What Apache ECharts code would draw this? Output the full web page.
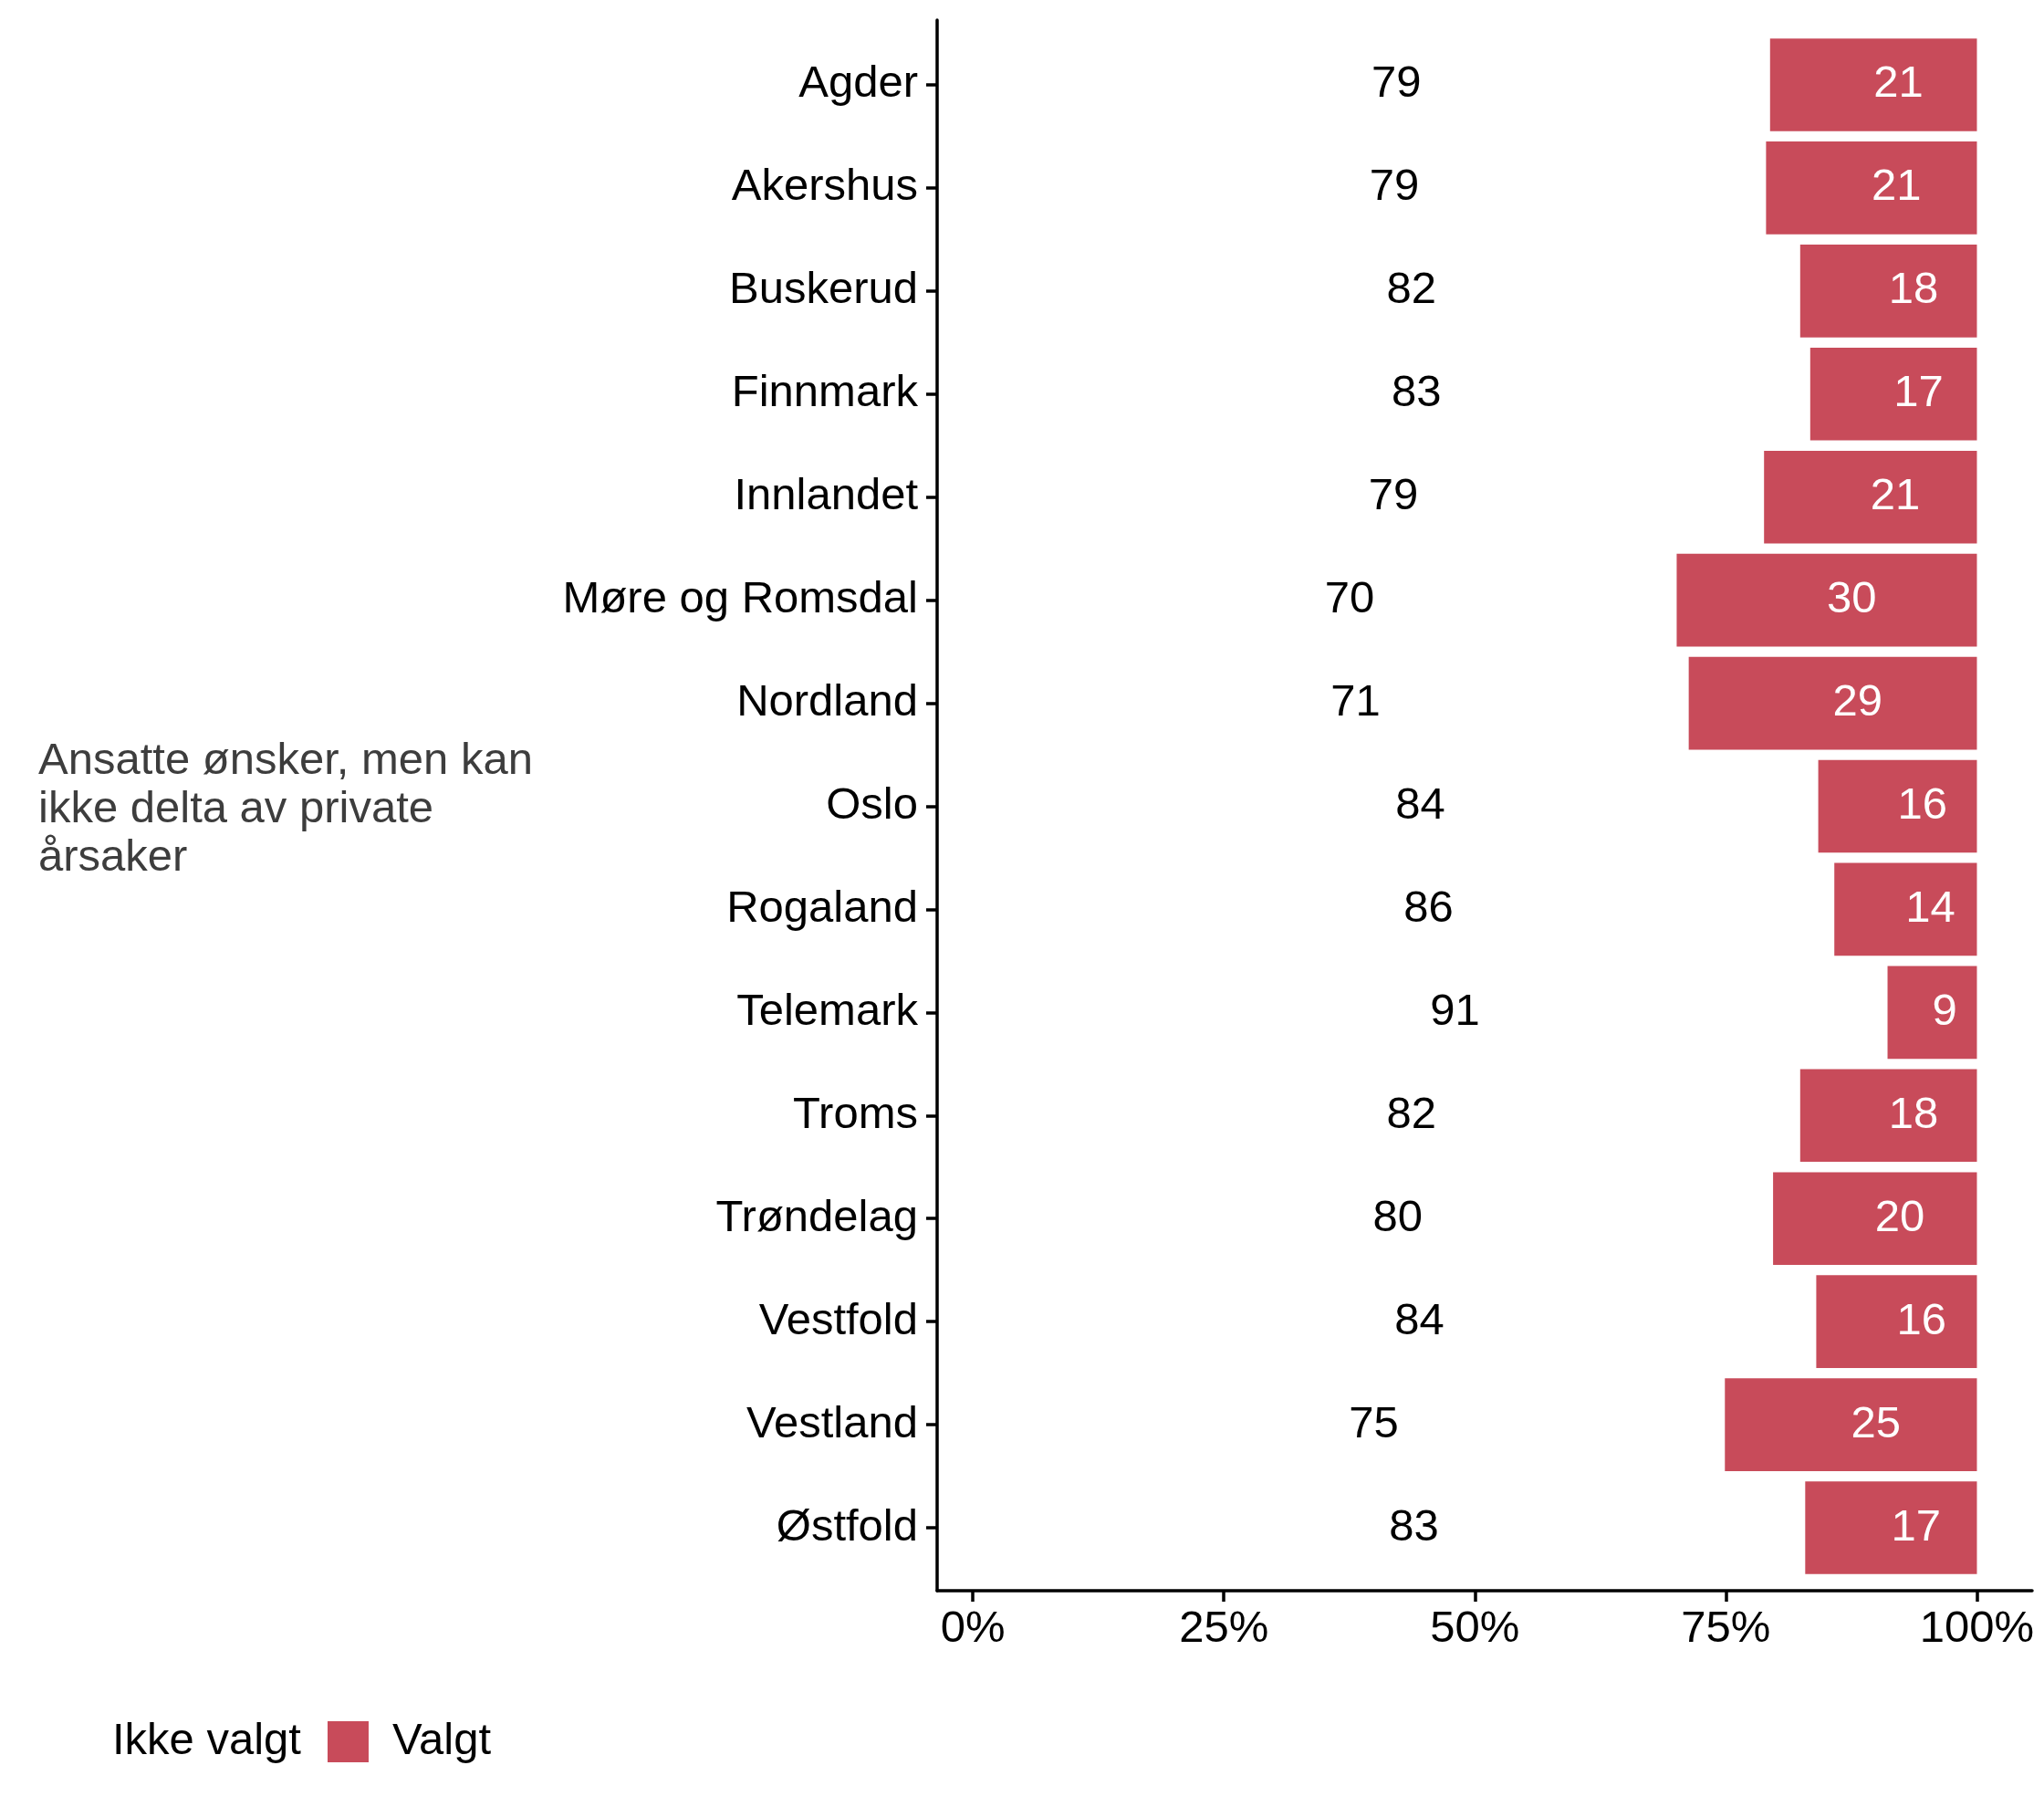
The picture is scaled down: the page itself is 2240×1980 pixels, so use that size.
<!DOCTYPE html>
<html>
<head>
<meta charset="utf-8">
<script src="https://cdn.jsdelivr.net/npm/echarts@6/dist/echarts.min.js"></script>
<style>html,body{margin:0;padding:0;background:#fff}#c{width:2240px;height:1980px}</style>
</head>
<body>
<div id="c"></div>
<script>
const categories = ['Agder','Akershus','Buskerud','Finnmark','Innlandet','Møre og Romsdal','Nordland','Oslo','Rogaland','Telemark','Troms','Trøndelag','Vestfold','Vestland','Østfold'];
const ikkeValgt = [79.4, 79.0, 82.4, 83.4, 78.8, 70.1, 71.3, 84.2, 85.8, 91.1, 82.4, 79.7, 84.0, 74.9, 82.9];
const valgt     = [20.6, 21.0, 17.6, 16.6, 21.2, 29.9, 28.7, 15.8, 14.2,  8.9, 17.6, 20.3, 16.0, 25.1, 17.1];
const xTicks = [0, 25, 50, 75, 100];
const axisTitle = 'Ansatte ønsker, men kan\nikke delta av private\nårsaker';
const seriesNames = ['Ikke valgt', 'Valgt'];

const FONT = "'Liberation Sans', Arial, sans-serif";
const RED = '#c84b5a';
const FS = 49;
const XMIN = -3.55, XMAX = 105.5;

const chart = echarts.init(document.getElementById('c'), null, {renderer: 'canvas'});
chart.setOption({
  animation: false,
  backgroundColor: '#fff',
  textStyle: {fontFamily: FONT},
  title: {
    text: axisTitle,
    left: 37, top: 803,
    textStyle: {fontFamily: FONT, fontSize: FS, fontWeight: 'normal', color: '#3d3d3d', lineHeight: 53}
  },
  legend: {
    left: 47, top: 1879,
    itemWidth: 45, itemHeight: 45, itemGap: 29,
    icon: 'rect',
    data: seriesNames,
    textStyle: {fontFamily: FONT, fontSize: FS, color: '#000', padding: [0, 0, 0, 21]}
  },
  grid: [
    {left: 1027, right: 13, top: 36.5, bottom: 249.5, containLabel: false},
    {left: 1027, right: 13, top: 22, bottom: 237, containLabel: false}
  ],
  xAxis: [
    {
      type: 'value', gridIndex: 0, min: XMIN, max: XMAX, show: false
    },
    {
      type: 'value', gridIndex: 1, min: XMIN, max: XMAX,
      axisLine: {show: true, onZero: false, lineStyle: {color: '#000', width: 3.5}},
      axisTick: {show: true, length: 12, customValues: xTicks, lineStyle: {color: '#000', width: 3.5}},
      axisLabel: {fontFamily: FONT, fontSize: FS, color: '#000', margin: 18, customValues: xTicks, formatter: v => v + '%'},
      splitLine: {show: false}
    }
  ],
  yAxis: [
    {
      type: 'category', gridIndex: 0, data: categories, inverse: true,
      axisLine: {show: false, onZero: false},
      axisTick: {show: true, alignWithLabel: true, length: 12, lineStyle: {color: '#000', width: 3.5}},
      axisLabel: {fontFamily: FONT, fontSize: FS, color: '#000', margin: 21}
    },
    {
      type: 'value', gridIndex: 1, min: 0, max: 1,
      axisLine: {show: true, onZero: false, lineStyle: {color: '#000', width: 3.5}},
      axisTick: {show: false}, axisLabel: {show: false}, splitLine: {show: false}
    }
  ],
  series: [
    {
      name: seriesNames[0], type: 'bar', stack: 'a', xAxisIndex: 0, yAxisIndex: 0,
      data: ikkeValgt, barWidth: '90%',
      itemStyle: {color: 'rgba(0,0,0,0)'},
      label: {show: true, position: 'inside', align: 'left', verticalAlign: 'middle',
        fontFamily: FONT, fontSize: FS, color: '#000',
        formatter: p => Math.round(p.value)}
    },
    {
      name: seriesNames[1], type: 'bar', stack: 'a', xAxisIndex: 0, yAxisIndex: 0,
      data: valgt, barWidth: '90%',
      itemStyle: {color: RED},
      label: {show: true, position: 'inside', align: 'left', verticalAlign: 'middle',
        fontFamily: FONT, fontSize: FS, color: '#fff',
        formatter: p => Math.round(p.value)}
    }
  ]
});
</script>
</body>
</html>
